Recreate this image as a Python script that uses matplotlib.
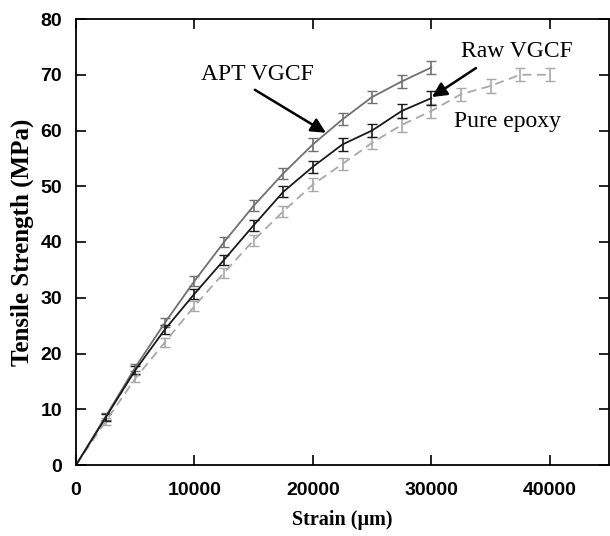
import numpy as np
import matplotlib.pyplot as plt

# strain points (every 2500)
strain = [0, 2500, 5000, 7500, 10000, 12500, 15000, 17500, 20000,
          22500, 25000, 27500, 30000]
strain_epoxy = strain + [32500, 35000, 37500, 40000]

apt_vgcf = [0, 8.7, 17.5, 25.5, 33.0, 40.0, 46.5, 52.3, 57.5, 62.0, 66.0, 68.8, 71.3]
apt_err = [0, 0.6, 0.7, 0.8, 0.9, 0.9, 1.0, 1.0, 1.1, 1.1, 1.1, 1.2, 1.2]

raw_vgcf = [0, 8.5, 17.0, 24.3, 30.7, 36.8, 43.0, 49.0, 53.5, 57.5, 60.0, 63.5, 65.8]
raw_err = [0, 0.6, 0.7, 0.8, 0.9, 0.9, 1.0, 1.0, 1.1, 1.1, 1.1, 1.2, 1.2]

pure_epoxy = [0, 7.8, 15.5, 22.0, 28.5, 34.5, 40.3, 45.5, 50.3, 54.0, 57.8,
              61.0, 63.5, 66.5, 68.0, 70.0, 70.0]
epoxy_err = [0, 0.6, 0.7, 0.8, 0.9, 0.9, 1.0, 1.0, 1.1, 1.1, 1.1, 1.2, 1.2,
             1.2, 1.2, 1.2, 1.2]

fig = plt.figure(figsize=(6.10, 5.36), dpi=100)
ax = fig.add_axes([76 / 610, 71 / 536, 533 / 610, 446 / 536])

ax.errorbar(strain_epoxy, pure_epoxy, yerr=epoxy_err, color='#a8a8a8', ls='--',
            lw=1.3, capsize=3.5, elinewidth=1.2, dashes=(5, 3))
ax.errorbar(strain, apt_vgcf, yerr=apt_err, color='#707070', ls='-',
            lw=1.3, capsize=3.5, elinewidth=1.2)
ax.errorbar(strain, raw_vgcf, yerr=raw_err, color='#1a1a1a', ls='-',
            lw=1.3, capsize=3.5, elinewidth=1.2)

ax.set_xlim(0, 45000)
ax.set_ylim(0, 80)
ax.set_xticks([0, 10000, 20000, 30000, 40000])
ax.set_yticks(range(0, 81, 10))
ax.tick_params(direction='in', length=7, width=1.2, top=True, right=True,
               labelsize=14)
ax.tick_params(axis='x', pad=12)
ax.tick_params(axis='y', pad=10)
for lab in ax.get_xticklabels() + ax.get_yticklabels():
    lab.set_fontfamily('Liberation Sans')
    lab.set_fontweight('bold')
for s in ax.spines.values():
    s.set_linewidth(1.3)

ax.set_xlabel('Strain (\u03bcm)', fontfamily='Liberation Serif',
              fontweight='bold', fontsize=14.5, labelpad=8)
ax.set_ylabel('Tensile Strength (MPa)', fontfamily='Liberation Serif',
              fontweight='bold', fontsize=18, labelpad=5)

arrow = dict(arrowstyle='-|>', color='black', lw=1.8, mutation_scale=22,
             shrinkA=0, shrinkB=0)
ax.text(15300, 70, 'APT VGCF', fontfamily='Liberation Serif', fontsize=17,
        ha='center', va='center')
ax.annotate('', xy=(21100, 59.6), xytext=(15100, 67.3), arrowprops=arrow)
ax.text(37200, 74.1, 'Raw VGCF', fontfamily='Liberation Serif', fontsize=17,
        ha='center', va='center')
ax.annotate('', xy=(30050, 66.0), xytext=(33770, 71.2), arrowprops=arrow)
ax.text(36400, 61.7, 'Pure epoxy', fontfamily='Liberation Serif', fontsize=17,
        ha='center', va='center')

fig.savefig('out.png', dpi=100)
